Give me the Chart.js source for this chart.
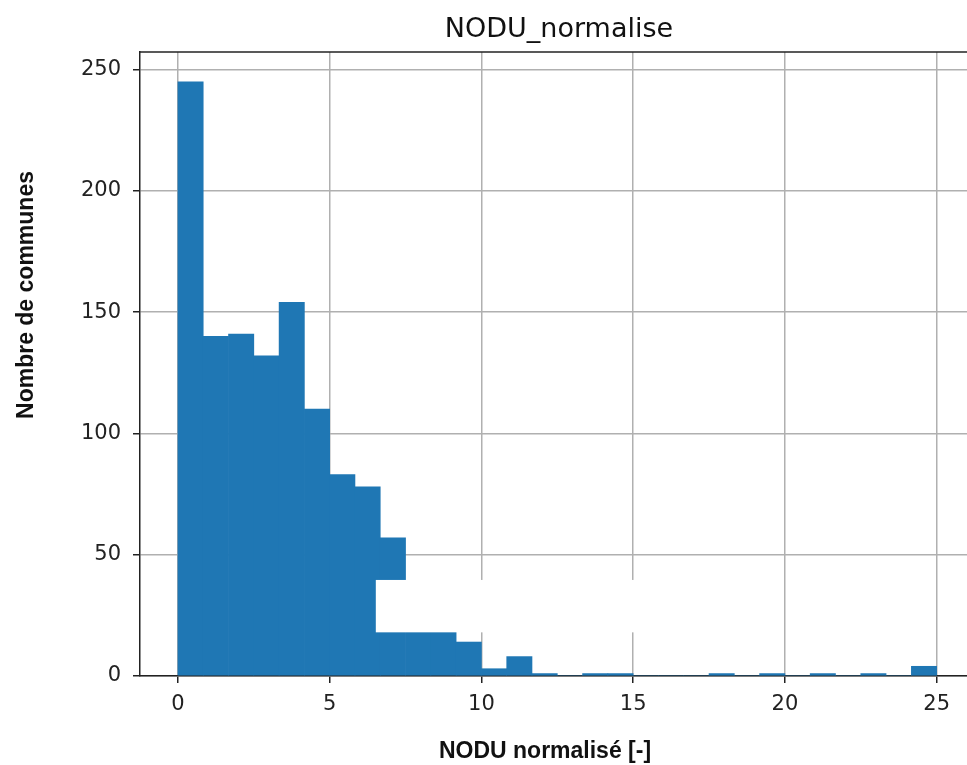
<!DOCTYPE html>
<html>
<head>
<meta charset="utf-8">
<title>NODU_normalise</title>
<script src="https://cdn.jsdelivr.net/npm/chart.js@4"></script>
<style>
  html, body { margin: 0; padding: 0; background: #fff; overflow: hidden; }
  canvas { display: block; }
</style>
</head>
<body>
<canvas id="histChart" width="967" height="765"></canvas>
<script>
// histogram bin edges (30 bins between 0 and 25)
const binEdges = [0, 0.833, 1.667, 2.5, 3.333, 4.167, 5, 5.833, 6.667, 7.5, 8.333, 9.167, 10, 10.833, 11.667, 12.5,
    13.333, 14.167, 15, 15.833, 16.667, 17.5, 18.333, 19.167, 20, 20.833, 21.667, 22.5, 23.333, 24.167, 25];

// number of communes per bin
const counts = [245, 140, 141, 132, 154, 110, 83, 78, 57, 18, 18, 14, 3, 8, 1, 0, 1, 1, 0, 0, 0, 1, 0, 1, 0, 1, 0, 1, 0, 4];

const xTicks = [0, 5, 10, 15, 20, 25];
const yTicks = [0, 50, 100, 150, 200, 250];

// blank patch that hides part of the original figure (data units)
const maskBox = { xMin: 6.52, xMax: 15.22, yMin: 18, yMax: 39.6 };

const points = counts.map((c, i) => ({ x: (binEdges[i] + binEdges[i + 1]) / 2, y: c }));

const decorations = {
    id: 'decorations',
    afterDraw(chart) {
        const { ctx, chartArea, scales: { x, y } } = chart;
        ctx.save();

        // white patch
        const l = x.getPixelForValue(maskBox.xMin);
        const r = x.getPixelForValue(maskBox.xMax);
        const t = y.getPixelForValue(maskBox.yMax);
        const b = y.getPixelForValue(maskBox.yMin);
        ctx.fillStyle = '#fff';
        ctx.fillRect(l, t, r - l, b - t);

        // top spine
        ctx.strokeStyle = '#222';
        ctx.lineWidth = 1.5;
        ctx.beginPath();
        ctx.moveTo(chartArea.left, chartArea.top);
        ctx.lineTo(chartArea.right, chartArea.top);
        ctx.stroke();

        // titles
        ctx.fillStyle = '#111';
        ctx.textAlign = 'center';
        ctx.textBaseline = 'alphabetic';
        ctx.font = '27px "DejaVu Sans"';
        ctx.fillText('NODU_normalise', 559, 37);

        ctx.font = 'bold 23px "Liberation Sans"';
        ctx.fillText('NODU normalisé [-]', 545, 758);

        ctx.translate(33, 295);
        ctx.rotate(-Math.PI / 2);
        ctx.fillText('Nombre de communes', 0, 0);
        ctx.restore();
    }
};

const tickFont = { family: 'DejaVu Sans', size: 21 };
const gridStyle = { color: '#b0b0b0', lineWidth: 1.5, tickColor: '#222', tickLength: 7, tickWidth: 1.5, offset: false };

const ctx = document.getElementById('histChart').getContext('2d');
const histChart = new Chart(ctx, {
    type: 'bar',
    data: {
        datasets: [{
            label: 'NODU_normalise',
            data: points,
            backgroundColor: '#1f77b4',
            borderWidth: 0,
            barPercentage: 1,
            categoryPercentage: 1
        }]
    },
    options: {
        responsive: false,
        animation: false,
        layout: { padding: { top: 52, left: 0, right: 0, bottom: 0 } },
        plugins: {
            legend: { display: false },
            tooltip: { enabled: false }
        },
        scales: {
            x: {
                type: 'linear',
                min: -1.25,
                max: 26,
                offset: false,
                z: 1,
                afterFit: s => { s.height = 89; },
                afterBuildTicks: s => { s.ticks = xTicks.map(v => ({ value: v })); },
                grid: gridStyle,
                border: { color: '#222', width: 1.5 },
                ticks: { font: tickFont, color: '#222', padding: 9, maxRotation: 0, autoSkip: false }
            },
            y: {
                min: 0,
                max: 257.25,
                z: 1,
                afterFit: s => { s.width = 140; },
                afterBuildTicks: s => { s.ticks = yTicks.map(v => ({ value: v })); },
                grid: gridStyle,
                border: { color: '#222', width: 1.5 },
                ticks: { font: tickFont, color: '#222', padding: 12 }
            }
        }
    },
    plugins: [decorations]
});
</script>
</body>
</html>
